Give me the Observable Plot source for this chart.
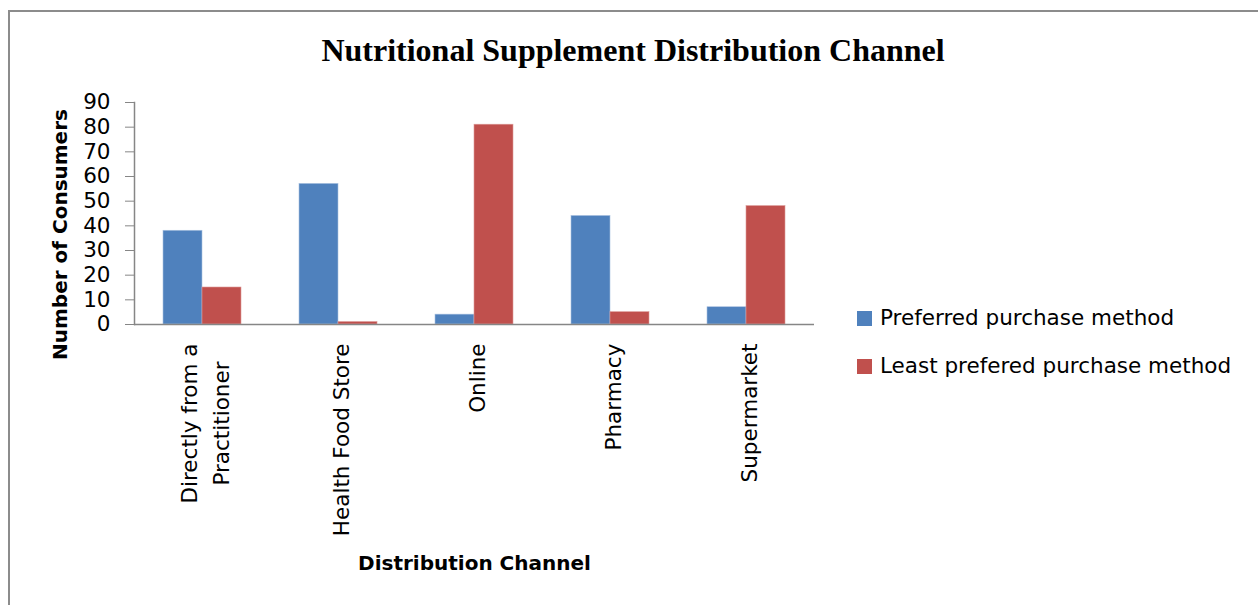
<!DOCTYPE html>
<html>
<head>
<meta charset="utf-8">
<script src="https://cdn.jsdelivr.net/npm/d3@7"></script>
<script src="https://cdn.jsdelivr.net/npm/@observablehq/plot@0.6"></script>
<style>
  html, body { margin: 0; padding: 0; background: #fff; }
  #wrap { position: relative; width: 1258px; height: 605px; overflow: hidden; font-family: "DejaVu Sans", sans-serif; }
  #border { position: absolute; left: 8px; top: 10px; width: 1400px; height: 800px; border-top: 2px solid #8c8c8c; border-left: 2px solid #8c8c8c; }
  #chart { position: absolute; left: 0; top: 0; }
  #title { position: absolute; left: 0; width: 1266px; top: 34px; line-height: 32px; text-align: center; font-weight: bold; font-size: 32px; font-family: "Liberation Serif", serif; color: #000; white-space: nowrap; }
  .leg { position: absolute; left: 857px; font-size: 21.5px; color: #000; white-space: nowrap; line-height: 24px; }
  .leg span.sw { display: inline-block; width: 15px; height: 15px; margin-right: 8px; vertical-align: -1px; }
</style>
</head>
<body>
<div id="wrap">
  <div id="border"></div>
  <div id="chart"></div>
  <div id="title"></div>
  <div id="legend"></div>
</div>
<script>
// ---- data ----
const titleText = "Nutritional Supplement Distribution Channel";
const channels = ["Directly from a\nPractitioner", "Health Food Store", "Online", "Pharmacy", "Supermarket"];
const seriesNames = ["Preferred purchase method", "Least prefered purchase method"];
const preferred = [38, 57, 4, 44, 7];
const leastPreferred = [15, 1, 81, 5, 48];
const yTicks = [0, 10, 20, 30, 40, 50, 60, 70, 80, 90];
const yTitle = "Number of Consumers";
const xTitle = "Distribution Channel";
const colors = ["#4F81BD", "#C0504D"];

const rowsPref = channels.map((c, i) => ({channel: c, value: preferred[i]}));
const rowsLeast = channels.map((c, i) => ({channel: c, value: leastPreferred[i]}));

const plot = Plot.plot({
  width: 1258,
  height: 605,
  marginLeft: 134,
  marginRight: 444,
  marginTop: 102,
  marginBottom: 281,
  style: { fontFamily: "DejaVu Sans", fontSize: "21.5px", color: "#000", background: "transparent" },
  x: { domain: channels, paddingInner: 0.426, paddingOuter: 0.213, label: null },
  y: { domain: [0, 90], label: null },
  marks: [
    Plot.barY(rowsPref, { x: "channel", y: "value", fill: colors[0], insetRight: 39, stroke: "#a9c1e0", strokeWidth: 0.6 }),
    Plot.barY(rowsLeast, { x: "channel", y: "value", fill: colors[1], insetLeft: 39, stroke: "#dc9a98", strokeWidth: 0.6 }),
    Plot.ruleY([0], { stroke: "#868686", strokeWidth: 1.5 }),
    Plot.frame({ anchor: "left", stroke: "#868686", strokeWidth: 1.5 }),
    Plot.axisY({ ticks: yTicks, tickSize: 9, tickPadding: 15, stroke: "#868686", fill: "#000", fontSize: 21.5, label: null }),
    Plot.axisX({ tickSize: 0, tickRotate: -90, tickPadding: 19, lineHeight: 1.49, fill: "#000", fontSize: 21.5, label: null }),
    Plot.text([yTitle], { frameAnchor: "left", textAnchor: "middle", lineAnchor: "middle", rotate: -90, dx: -74, dy: 21, fontWeight: "bold", fontSize: 20, fill: "#000" }),
    Plot.text([xTitle], { frameAnchor: "bottom", textAnchor: "middle", lineAnchor: "middle", dy: 239, fontWeight: "bold", fontSize: 20, fill: "#000" })
  ]
});
document.getElementById("chart").appendChild(plot);

// center-align multi-line rotated category labels, keeping the block's top edge at the same place
const xLabelGroup = plot.querySelector('g[aria-label="x-axis tick label"]');
if (xLabelGroup) {
  xLabelGroup.querySelectorAll("text").forEach(t => {
    const w = t.getBBox().width;
    t.setAttribute("text-anchor", "middle");
    const spans = t.querySelectorAll("tspan");
    if (spans.length) spans.forEach(s => s.setAttribute("x", -w / 2));
    else t.setAttribute("x", -w / 2);
  });
}

document.getElementById("title").textContent = titleText;
const legend = document.getElementById("legend");
seriesNames.forEach((s, i) => {
  const d = document.createElement("div");
  d.className = "leg";
  d.style.top = (306 + i * 48) + "px";
  d.innerHTML = `<span class="sw" style="background:${colors[i]}"></span>`;
  d.appendChild(document.createTextNode(s));
  legend.appendChild(d);
});
</script>
</body>
</html>
